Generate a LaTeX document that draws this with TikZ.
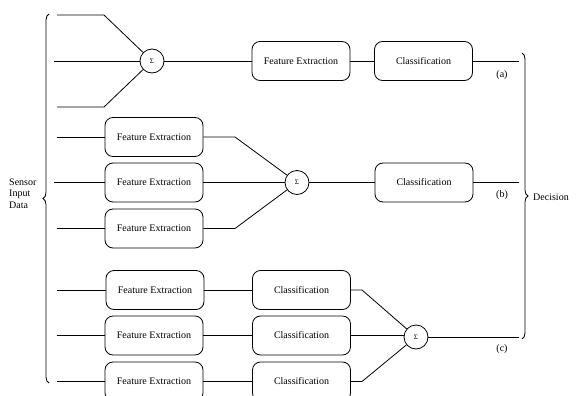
\documentclass[tikz,border=0pt]{standalone}
\usepackage{fontspec}
\setmainfont{Liberation Serif}
\usetikzlibrary{decorations.pathreplacing}
\begin{document}
\begin{tikzpicture}[x=1pt,y=-1pt,
  box/.style={draw,thick,rounded corners=8pt,minimum width=98pt,minimum height=39pt,inner sep=0pt,font=\fontsize{10}{12}\selectfont},
  sig/.style={draw,thick,circle,minimum size=24pt,inner sep=0pt,font=\fontsize{7}{8}\selectfont},
  lbl/.style={font=\fontsize{10}{12}\selectfont,inner sep=0pt},
  ln/.style={thick},
  brc/.style={thick,decorate,decoration={brace,amplitude=6pt}}]
\useasboundingbox (0,0) rectangle (576,396);
% Row (a)
\node[sig] (sa) at (152,61) {Σ};
\node[box] (fa) at (301,61) {Feature Extraction};
\node[box] (ca) at (423.5,61) {Classification};
\coordinate (a1) at (57,15); \coordinate (a1b) at (104,15);
\coordinate (a2) at (54,61);
\coordinate (a3) at (57,107); \coordinate (a3b) at (104,107);
\coordinate (ao) at (519,61);
\draw[ln] (a1) -- (a1b) -- (sa);
\draw[ln] (a2) -- (sa);
\draw[ln] (a3) -- (a3b) -- (sa);
\draw[ln] (sa) -- (fa);
\draw[ln] (fa) -- (ca);
\draw[ln] (ca) -- (ao);
\node[lbl] (la) at (502,75) {(a)};
% Row (b)
\node[box] (fb1) at (154,137) {Feature Extraction};
\node[box] (fb2) at (154,182.5) {Feature Extraction};
\node[box] (fb3) at (154,228.5) {Feature Extraction};
\node[sig] (sb) at (297,182.5) {Σ};
\node[box] (cb) at (424,182.5) {Classification};
\coordinate (b1) at (57,137); \coordinate (b2) at (54,182.5); \coordinate (b3) at (57,228.5);
\coordinate (b1b) at (235,137); \coordinate (b3b) at (235,228.5);
\coordinate (bo) at (519,182.5);
\draw[ln] (b1) -- (fb1); \draw[ln] (b2) -- (fb2); \draw[ln] (b3) -- (fb3);
\draw[ln] (fb1.east) -- (b1b) -- (sb);
\draw[ln] (fb2) -- (sb);
\draw[ln] (fb3.east) -- (b3b) -- (sb);
\draw[ln] (sb) -- (cb);
\draw[ln] (cb) -- (bo);
\node[lbl] (lb) at (502,195) {(b)};
% Row (c)
\node[box] (fc1) at (155,290) {Feature Extraction};
\node[box] (fc2) at (154,335.5) {Feature Extraction};
\node[box] (fc3) at (154,381.5) {Feature Extraction};
\node[box] (cc1) at (301.5,290) {Classification};
\node[box] (cc2) at (301.5,335.5) {Classification};
\node[box] (cc3) at (301.5,381.5) {Classification};
\node[sig] (sc) at (416,337) {Σ};
\coordinate (c1) at (57,290); \coordinate (c2) at (57,335.5); \coordinate (c3) at (57,381.5);
\coordinate (c1b) at (362,290); \coordinate (c3b) at (362,381.5);
\coordinate (co) at (519,337);
\draw[ln] (c1) -- (fc1); \draw[ln] (c2) -- (fc2); \draw[ln] (c3) -- (fc3);
\draw[ln] (fc1) -- (cc1); \draw[ln] (fc2) -- (cc2); \draw[ln] (fc3) -- (cc3);
\draw[ln] (cc1.east) -- (c1b) -- (sc);
\draw[ln] (cc2.east) -- (cc2.east -| sc.west);
\draw[ln] (cc3.east) -- (c3b) -- (sc);
\draw[ln] (sc) -- (co);
\node[lbl] (lc) at (502,349) {(c)};
% Braces
\coordinate (lbt) at (49,14); \coordinate (lbb) at (49,383);
\draw[brc] (lbb) -- (lbt);
\coordinate (rbt) at (522,53); \coordinate (rbb) at (522,339);
\draw[brc] (rbt) -- (rbb);
\node[lbl,anchor=west,align=left,font=\fontsize{10}{11.5}\selectfont] (sid) at (9,193.5) {Sensor\\Input\\Data};
\node[lbl,anchor=west] (dec) at (533,197) {Decision};
\end{tikzpicture}
\end{document}
